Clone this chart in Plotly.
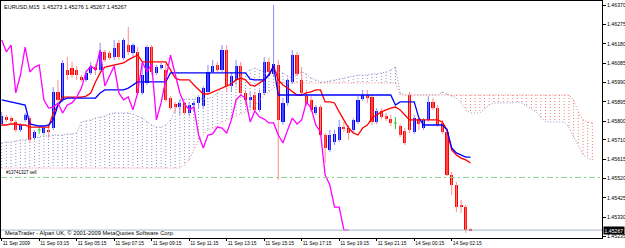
import plotly.graph_objects as go

# ---------------- text / labels ----------------
symbol_text = "EURUSD,M15  1.45273 1.45276 1.45267 1.45267"
footer_text = "MetaTrader - Alpari UK, \u00a9 2001-2009 MetaQuotes Software Corp."
order_text = "#13741327 sell"
order_price = 1.45525
bid_price = 1.45267
bid_text = "1.45267"

x_labels = ["11 Sep 2009", "11 Sep 03:15", "11 Sep 05:15", "11 Sep 07:15", "11 Sep 09:15",
            "11 Sep 11:15", "11 Sep 13:15", "11 Sep 15:15", "11 Sep 17:15", "11 Sep 19:15",
            "11 Sep 21:15", "14 Sep 00:15", "14 Sep 02:15"]
label_every = 8  # one time label every 8 bars (2 hours of M15 bars)

y_tick_text = ["1.46370", "1.46275", "1.46180", "1.46085", "1.45990", "1.45895", "1.45800",
               "1.45710", "1.45615", "1.45520", "1.45425", "1.45330", "1.45235"]

# ---------------- price bars (M15) ----------------
opens = [1.45787,1.45821,1.45816,1.45797,1.45758,1.45807,1.45816,1.45718,1.45758,1.45743,
         1.45758,1.45767,1.45944,1.45905,1.46052,1.46061,1.46052,1.46017,1.46003,1.46037,
         1.46066,1.46052,1.46140,1.46135,1.46115,1.46184,1.46110,1.46174,1.46135,1.46140,
         1.45939,1.45988,1.46164,1.46037,1.46061,1.46052,1.45914,1.45885,1.45870,1.45890,
         1.45841,1.45880,1.45890,1.45875,1.45944,1.46042,1.46076,1.46052,1.46150,1.45973,
         1.46003,1.46071,1.45939,1.45905,1.45929,1.45856,1.45939,1.46091,1.46032,1.46076,
         1.45797,1.45890,1.45993,1.46125,1.46003,1.45924,1.45905,1.45841,1.45870,1.45733,
         1.45660,1.45699,1.45709,1.45772,1.45767,1.45758,1.45797,1.45909,1.45929,1.45919,
         1.45797,1.45851,1.45826,1.45811,1.45792,1.45777,1.45753,1.45929,1.45748,1.45811,
         1.45767,1.45807,1.45895,1.45865,1.45792,1.45748,1.45537,1.45488,1.45390,1.45380,
         1.45273]
highs = [1.45846,1.45831,1.45826,1.45807,1.45792,1.45841,1.45826,1.45758,1.45772,1.45777,
         1.45772,1.45968,1.46003,1.46101,1.46115,1.46091,1.46071,1.46027,1.46052,1.46091,
         1.46081,1.46184,1.46150,1.46145,1.46199,1.46199,1.46208,1.46262,1.46184,1.46164,
         1.46076,1.46174,1.46174,1.46076,1.46086,1.46081,1.45924,1.45895,1.45905,1.45895,
         1.45890,1.45900,1.45929,1.45973,1.46076,1.46101,1.46091,1.46174,1.46174,1.46042,
         1.46101,1.46091,1.45954,1.45944,1.45944,1.45954,1.46115,1.46110,1.46370,1.46101,
         1.45914,1.46012,1.46150,1.46140,1.46066,1.45954,1.45924,1.45880,1.45880,1.45743,
         1.45758,1.45758,1.45807,1.45797,1.45782,1.45816,1.45924,1.45954,1.45954,1.45929,
         1.45865,1.45865,1.45841,1.45831,1.45821,1.45787,1.45767,1.45944,1.45831,1.45826,
         1.45816,1.45924,1.45914,1.45880,1.45807,1.45767,1.45552,1.45503,1.45415,1.45390,
         1.45276]
lows = [1.45777,1.45797,1.45792,1.45748,1.45748,1.45797,1.45694,1.45709,1.45738,1.45733,
        1.45718,1.45758,1.45895,1.45895,1.46003,1.46012,1.46003,1.45993,1.45993,1.46027,
        1.46027,1.46042,1.46091,1.46101,1.46101,1.46101,1.46101,1.46125,1.46110,1.45929,
        1.45929,1.45978,1.46027,1.46027,1.46052,1.45895,1.45856,1.45841,1.45831,1.45831,
        1.45826,1.45846,1.45865,1.45865,1.45939,1.46037,1.46042,1.46042,1.45944,1.45944,
        1.45978,1.45929,1.45880,1.45865,1.45846,1.45846,1.45929,1.46027,1.46022,1.45513,
        1.45782,1.45875,1.45983,1.46022,1.45924,1.45875,1.45846,1.45831,1.45723,1.45596,
        1.45650,1.45684,1.45699,1.45748,1.45709,1.45743,1.45787,1.45900,1.45890,1.45782,
        1.45787,1.45811,1.45802,1.45777,1.45762,1.45723,1.45684,1.45743,1.45738,1.45758,
        1.45758,1.45797,1.45856,1.45772,1.45738,1.45532,1.45439,1.45356,1.45351,1.45253,
        1.45267]
closes = [1.45826,1.45807,1.45802,1.45758,1.45782,1.45831,1.45709,1.45748,1.45758,1.45767,
          1.45748,1.45944,1.45905,1.46086,1.46027,1.46027,1.46027,1.46003,1.46037,1.46066,
          1.46052,1.46140,1.46101,1.46110,1.46159,1.46115,1.46199,1.46140,1.46174,1.45939,
          1.46027,1.46164,1.46042,1.46066,1.46076,1.45905,1.45865,1.45870,1.45890,1.45841,
          1.45880,1.45890,1.45919,1.45963,1.46042,1.46071,1.46052,1.46150,1.45973,1.46022,
          1.46071,1.45939,1.45905,1.45919,1.45856,1.45939,1.46091,1.46042,1.46081,1.45807,
          1.45890,1.46003,1.46125,1.46032,1.45939,1.45885,1.45856,1.45870,1.45733,1.45669,
          1.45733,1.45738,1.45772,1.45767,1.45743,1.45807,1.45905,1.45929,1.45914,1.45797,
          1.45851,1.45821,1.45811,1.45792,1.45792,1.45733,1.45694,1.45758,1.45816,1.45787,
          1.45807,1.45895,1.45865,1.45782,1.45748,1.45537,1.45488,1.45380,1.45380,1.45268,
          1.45267]

# ---------------- Ichimoku lines ----------------
tenkan = [1.45782,1.45782,1.45787,1.45787,1.45782,1.45782,1.45772,1.45772,1.45772,1.45772,
          1.45772,1.45841,1.45880,1.45919,1.45919,1.45919,1.45919,1.45919,1.45924,1.45939,
          1.45993,1.46037,1.46066,1.46071,1.46076,1.46081,1.46086,1.46101,1.46115,1.46125,
          1.46091,1.46091,1.46091,1.46091,1.46091,1.46091,1.46052,1.46012,1.46003,1.46003,
          1.46003,1.45978,1.45954,1.45934,1.45934,1.45944,1.45954,1.45963,1.45973,1.45983,
          1.46003,1.46012,1.46003,1.45978,1.45973,1.45988,1.46003,1.46027,1.46071,1.46003,
          1.45978,1.45963,1.45944,1.45929,1.45929,1.45939,1.45944,1.45954,1.45954,1.45895,
          1.45895,1.45890,1.45846,1.45807,1.45767,1.45743,1.45733,1.45767,1.45782,1.45816,
          1.45831,1.45846,1.45856,1.45865,1.45870,1.45856,1.45831,1.45807,1.45807,1.45807,
          1.45807,1.45807,1.45807,1.45807,1.45797,1.45758,1.45660,1.45635,1.45620,1.45611,
          1.45596]
kijun = [1.45905,1.45900,1.45895,1.45890,1.45885,1.45880,1.45787,1.45782,1.45777,1.45777,
         1.45782,1.45807,1.45880,1.45905,1.45914,1.45914,1.45914,1.45914,1.45914,1.45914,
         1.45914,1.45939,1.45954,1.45954,1.45954,1.45954,1.45954,1.45963,1.45978,1.45993,
         1.45993,1.45993,1.45993,1.45993,1.45993,1.45993,1.46037,1.46037,1.46037,1.46037,
         1.46037,1.46037,1.46037,1.46037,1.46037,1.46037,1.46037,1.46037,1.46037,1.46037,
         1.46037,1.46037,1.46037,1.46007,1.46003,1.46003,1.46003,1.46027,1.46071,1.45929,
         1.45929,1.45929,1.45929,1.45929,1.45929,1.45929,1.45929,1.45929,1.45929,1.45929,
         1.45929,1.45929,1.45929,1.45929,1.45929,1.45929,1.45929,1.45929,1.45929,1.45929,
         1.45929,1.45929,1.45929,1.45929,1.45880,1.45895,1.45895,1.45895,1.45895,1.45816,
         1.45782,1.45782,1.45782,1.45782,1.45782,1.45758,1.45669,1.45645,1.45635,1.45625,
         1.45625]
chikou = [1.46199,1.46140,1.46174,1.45939,1.46027,1.46164,1.46042,1.46066,1.46076,1.45905,
          1.45865,1.45870,1.45890,1.45841,1.45880,1.45890,1.45919,1.45963,1.46042,1.46071,
          1.46052,1.46150,1.45973,1.46022,1.46071,1.45939,1.45905,1.45919,1.45856,1.45939,
          1.46091,1.46042,1.46081,1.45807,1.45890,1.46003,1.46125,1.46032,1.45939,1.45885,
          1.45856,1.45870,1.45733,1.45669,1.45733,1.45738,1.45772,1.45767,1.45743,1.45807,
          1.45905,1.45929,1.45914,1.45797,1.45851,1.45821,1.45811,1.45792,1.45792,1.45733,
          1.45694,1.45758,1.45816,1.45787,1.45807,1.45895,1.45865,1.45782,1.45748,1.45537,
          1.45488,1.45380,1.45380,1.45268,1.45267]
span_a = [1.45694,1.45699,1.45699,1.45704,1.45709,1.45709,1.45713,1.45718,1.45723,1.45728,
          1.45728,1.45733,1.45733,1.45733,1.45738,1.45738,1.45743,1.45797,1.45802,1.45807,
          1.45816,1.45821,1.45826,1.45836,1.45841,1.45841,1.45841,1.45841,1.45836,1.45826,
          1.45816,1.45797,1.45782,1.45772,1.45772,1.45782,1.45807,1.45856,1.45905,1.45909,
          1.45909,1.45909,1.45909,1.45909,1.45914,1.45919,1.45939,1.45963,1.45978,1.45993,
          1.46003,1.46022,1.46037,1.46052,1.46061,1.46052,1.46037,1.46027,1.46037,1.46042,
          1.46037,1.46022,1.46012,1.46027,1.46042,1.46032,1.46012,1.46003,1.45993,1.45993,
          1.45998,1.46003,1.46007,1.46012,1.46017,1.46022,1.46027,1.46027,1.46027,1.46032,
          1.46032,1.46037,1.46042,1.46052,1.46066,1.45939,1.45929,1.45929,1.45929,1.45929,
          1.45929,1.45929,1.45929,1.45929,1.45944,1.45934,1.45924,1.45914,1.45890,1.45856,
          1.45841,1.45841,1.45841,1.45860,1.45880,1.45890,1.45890,1.45890,1.45890,1.45890,
          1.45895,1.45890,1.45875,1.45860,1.45846,1.45821,1.45797,1.45797,1.45797,1.45797,
          1.45797,1.45772,1.45723,1.45684,1.45635,1.45620,1.45611]
span_b = [1.45571,1.45571,1.45571,1.45571,1.45571,1.45571,1.45571,1.45571,1.45571,1.45571,
          1.45571,1.45571,1.45571,1.45571,1.45571,1.45571,1.45571,1.45571,1.45571,1.45571,
          1.45571,1.45571,1.45571,1.45571,1.45571,1.45571,1.45571,1.45571,1.45571,1.45571,
          1.45571,1.45571,1.45571,1.45571,1.45571,1.45571,1.45571,1.45571,1.45571,1.45586,
          1.45611,1.45660,1.45709,1.45733,1.45758,1.45767,1.45777,1.45797,1.45807,1.45816,
          1.45826,1.45836,1.45846,1.45856,1.45875,1.45905,1.45924,1.45944,1.45963,1.45978,
          1.45988,1.45988,1.45988,1.45988,1.45988,1.45988,1.45988,1.45988,1.45988,1.45988,
          1.45988,1.45988,1.45988,1.45988,1.45988,1.45988,1.45988,1.45988,1.45988,1.45988,
          1.45988,1.45988,1.45988,1.45988,1.45988,1.45929,1.45929,1.45929,1.45929,1.45929,
          1.45929,1.45929,1.45929,1.45929,1.45929,1.45929,1.45929,1.45929,1.45929,1.45929,
          1.45929,1.45929,1.45929,1.45929,1.45929,1.45929,1.45929,1.45929,1.45929,1.45929,
          1.45929,1.45929,1.45929,1.45929,1.45929,1.45929,1.45929,1.45929,1.45929,1.45929,
          1.45929,1.45929,1.45905,1.45846,1.45807,1.45797,1.45792]

# ---------------- styles ----------------
BULL = "#0000ff"
BEAR = "#ff0000"
BULL_WICK = "#8c8cff"
BEAR_WICK = "#ff8c8c"
DOJI = "#33cc33"
TENKAN_C = "#ff0000"
KIJUN_C = "#0000ff"
CHIKOU_C = "#ff00ff"
CLOUD_A = "#8f8fc4"
CLOUD_B = "#f07c7c"
DOTS = "1px,2px"
FONT = "Liberation Sans, Arial, sans-serif"

n = len(opens)
bars = list(range(n))
fwd = list(range(len(span_a)))
chik_x = list(range(len(chikou)))

fig = go.Figure()

# cloud: dotted vertical hatching between the spans
ga_x, ga_y, gb_x, gb_y = [], [], [], []
for i in fwd:
    a, b = span_a[i], span_b[i]
    if a >= b:
        ga_x += [i, i, None]; ga_y += [a, b, None]
    else:
        gb_x += [i, i, None]; gb_y += [b, a, None]
fig.add_trace(go.Scatter(x=ga_x, y=ga_y, mode="lines", line=dict(color=CLOUD_A, width=1, dash=DOTS), hoverinfo="skip"))
fig.add_trace(go.Scatter(x=gb_x, y=gb_y, mode="lines", line=dict(color=CLOUD_B, width=1, dash=DOTS), hoverinfo="skip"))
fig.add_trace(go.Scatter(x=fwd, y=span_a, mode="lines", line=dict(color=CLOUD_A, width=1, dash=DOTS), hoverinfo="skip"))
fig.add_trace(go.Scatter(x=fwd, y=span_b, mode="lines", line=dict(color=CLOUD_B, width=1, dash=DOTS), hoverinfo="skip"))

# reference lines
fig.add_hline(y=order_price, line=dict(color="#86d486", width=1, dash="6px,3px,2px,3px"))
fig.add_hline(y=bid_price, line=dict(color="#a7b5c9", width=1))

# wicks
wu_x, wu_y, wd_x, wd_y, wz_x, wz_y = [], [], [], [], [], []
for i in bars:
    if closes[i] > opens[i]:
        wu_x += [i, i, None]; wu_y += [lows[i], highs[i], None]
    elif closes[i] < opens[i]:
        wd_x += [i, i, None]; wd_y += [lows[i], highs[i], None]
    else:
        wz_x += [i, i, None, i - 0.35, i + 0.35, None]
        wz_y += [lows[i], highs[i], None, opens[i], opens[i], None]
fig.add_trace(go.Scatter(x=wu_x, y=wu_y, mode="lines", line=dict(color=BULL_WICK, width=1), hoverinfo="skip"))
fig.add_trace(go.Scatter(x=wd_x, y=wd_y, mode="lines", line=dict(color=BEAR_WICK, width=1), hoverinfo="skip"))
fig.add_trace(go.Scatter(x=wz_x, y=wz_y, mode="lines", line=dict(color=DOJI, width=1), hoverinfo="skip"))

# bodies
body_x, body_base, body_h, body_c = [], [], [], []
for i in bars:
    if closes[i] == opens[i]:
        continue
    body_x.append(i)
    body_base.append(min(opens[i], closes[i]))
    body_h.append(abs(closes[i] - opens[i]))
    body_c.append(BULL if closes[i] > opens[i] else BEAR)
fig.add_trace(go.Bar(x=body_x, y=body_h, base=body_base, width=0.66,
                     marker=dict(color=body_c, line=dict(width=0)), hoverinfo="skip"))

# ichimoku lines
fig.add_trace(go.Scatter(x=bars, y=tenkan, mode="lines", line=dict(color=TENKAN_C, width=1.3), hoverinfo="skip"))
fig.add_trace(go.Scatter(x=bars, y=kijun, mode="lines", line=dict(color=KIJUN_C, width=1.3), hoverinfo="skip"))
fig.add_trace(go.Scatter(x=chik_x, y=chikou, mode="lines", line=dict(color=CHIKOU_C, width=1.3), hoverinfo="skip"))

tick_bars = [k * label_every for k in range(len(x_labels))]
y_tick_vals = [float(t) for t in y_tick_text]

fig.update_layout(
    width=625, height=248,
    margin=dict(l=1, r=23, t=1, b=10, pad=0),
    paper_bgcolor="white", plot_bgcolor="white",
    showlegend=False, bargap=0,
    font=dict(family=FONT, size=5.3, color="black"),
    xaxis=dict(range=[-0.15, 128.06], tickmode="array", tickvals=tick_bars, ticktext=x_labels,
               ticks="outside", ticklen=2, tickwidth=1, tickcolor="black", tickangle=0,
               ticklabelposition="outside right", ticklabelstandoff=0, showgrid=False, zeroline=False,
               showline=True, linecolor="black", linewidth=1, mirror=True,
               tickfont=dict(size=4.9, family=FONT, color="black"), automargin=False, fixedrange=True),
    yaxis=dict(side="right", range=[1.452283, 1.463896], tickmode="array",
               tickvals=y_tick_vals, ticktext=y_tick_text,
               ticks="outside", ticklen=3, tickwidth=1, tickcolor="black", ticklabelstandoff=0,
               showgrid=False, zeroline=False,
               showline=True, linecolor="black", linewidth=1, mirror=True,
               tickfont=dict(size=5.2, family=FONT, color="black"), automargin=False, fixedrange=True),
)

fig.add_annotation(text=symbol_text, xref="paper", yref="paper", x=0, y=1, xanchor="left", yanchor="top",
                   xshift=1, yshift=-1, showarrow=False, font=dict(size=5.5, family=FONT, color="black"))
fig.add_annotation(text=footer_text, xref="paper", yref="paper", x=0, y=0, xanchor="left", yanchor="bottom",
                   xshift=2, yshift=0, showarrow=False, font=dict(size=5.8, family=FONT, color="black"))
fig.add_annotation(text=order_text, xref="paper", yref="y", x=0, y=order_price, xanchor="left", yanchor="bottom",
                   xshift=3, yshift=0, showarrow=False, font=dict(size=4.5, family=FONT, color="black"))
fig.add_annotation(text=bid_text, xref="paper", yref="y", x=1, y=bid_price, xanchor="left", yanchor="middle",
                   xshift=1, showarrow=False, bgcolor="black", borderpad=0.5,
                   font=dict(size=5.2, family=FONT, color="white"))

fig.write_html("out.html")
